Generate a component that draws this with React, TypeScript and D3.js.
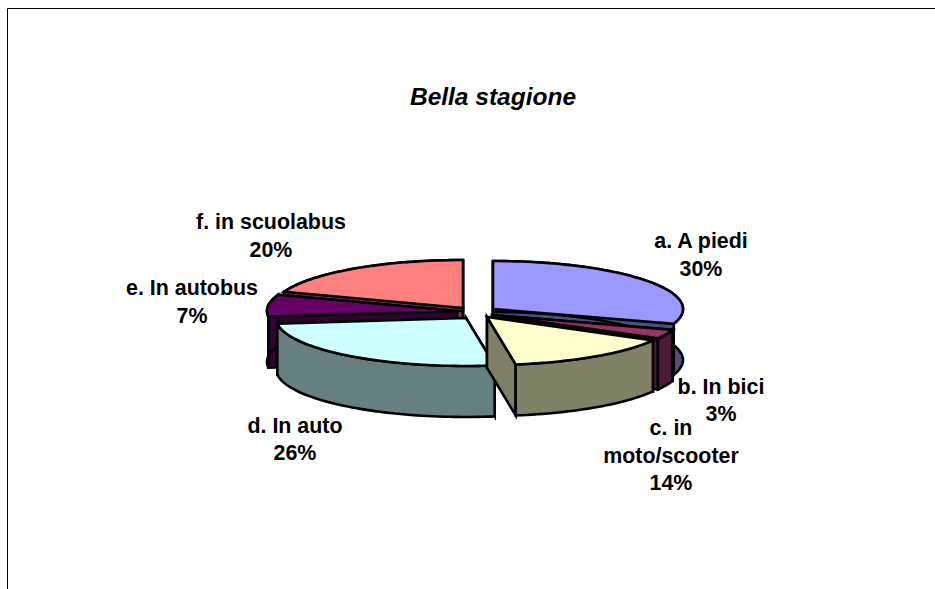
import React from "react";
import * as d3 from "d3";

const categories = ["a. A piedi", "b. In bici", "c. in moto/scooter", "d. In auto", "e. In autobus", "f. in scuolabus"];
const values = [30, 3.1, 14.49, 25.5, 7.41, 19.5];
const percentLabels = ["30%", "3%", "14%", "26%", "7%", "20%"];
const topColors = ["#9999FF", "#993366", "#FFFFCC", "#CCFFFF", "#660066", "#FF8080"];
const sideColors = ["#4D4D80", "#4D1A33", "#808066", "#668080", "#330033", "#804040"];
const title = "Bella stagione";

const W = 935, H = 589;
const cx = 478, cy = 313, rx = 190, ry = 48, depth = 51;
const explode = [[15, -4], [14, 2], [9, 4], [-12, 5], [-21, -2], [-15, -5]];
const paintOrder = [5, 0, 4, 1, 3, 2];
const labelLayout = [
  { x: 701, lines: [[categories[0], 248], [percentLabels[0], 276]] },
  { x: 721, lines: [[categories[1], 394], [percentLabels[1], 421]] },
  { x: 671, lines: [["c. in", 435], ["moto/scooter", 463], [percentLabels[2], 490]] },
  { x: 295, lines: [[categories[3], 433], [percentLabels[3], 460]] },
  { x: 192, lines: [[categories[4], 295], [percentLabels[4], 323]] },
  { x: 271, lines: [[categories[5], 229], [percentLabels[5], 257]] },
];

const arcs = d3.pie<number>().sort(null).value((d) => d)(values);

function pt(i: number, a: number, r = 1, dz = 0): [number, number] {
  return [
    cx + explode[i][0] + r * rx * Math.sin(a),
    cy + explode[i][1] - r * ry * Math.cos(a) + dz,
  ];
}
function arcPts(i: number, a0: number, a1: number, dz = 0): [number, number][] {
  const n = Math.max(2, Math.ceil((a1 - a0) / 0.03));
  return d3.range(n + 1).map((k) => pt(i, a0 + ((a1 - a0) * k) / n, 1, dz));
}
const line = d3.line();

function Slice({ i }: { i: number }) {
  const { startAngle: a0, endAngle: a1 } = arcs[i];
  const apex = pt(i, 0, 0), apexB = pt(i, 0, 0, depth);
  const cut = (a: number) => line([apex, pt(i, a), pt(i, a, 1, depth), apexB])! + "Z";
  const wall = line([...arcPts(i, a0, a1), ...arcPts(i, a0, a1, depth).reverse()])! + "Z";
  const top = line([apex, ...arcPts(i, a0, a1)])! + "Z";
  const st = { stroke: "#000", strokeWidth: 2.6, strokeLinejoin: "miter" as const, strokeMiterlimit: 4 };
  return (
    <g>
      <path d={cut(a0)} fill={sideColors[i]} {...st} />
      <path d={cut(a1)} fill={sideColors[i]} {...st} />
      <path d={wall} fill={sideColors[i]} {...st} />
      <path d={top} fill={topColors[i]} {...st} />
    </g>
  );
}

export default function App() {
  return (
    <svg width={W} height={H} style={{ position: "fixed", left: 0, top: 0, background: "#fff" }}
      fontFamily="'Liberation Sans', Arial, sans-serif">
      <path d={`M7.5 ${H}V8.5H${W}`} fill="none" stroke="#000" strokeWidth={1} />
      <text x={493} y={105} textAnchor="middle" fontSize={24.5} fontWeight="bold" fontStyle="italic">{title}</text>
      {paintOrder.map((i) => <Slice key={i} i={i} />)}
      {labelLayout.map((l, i) => l.lines.map(([t, y], k) => (
        <text key={`${i}-${k}`} x={l.x} y={y as number} textAnchor="middle" fontSize={21.4} fontWeight="bold" fill="#000">{t}</text>
      )))}
    </svg>
  );
}
